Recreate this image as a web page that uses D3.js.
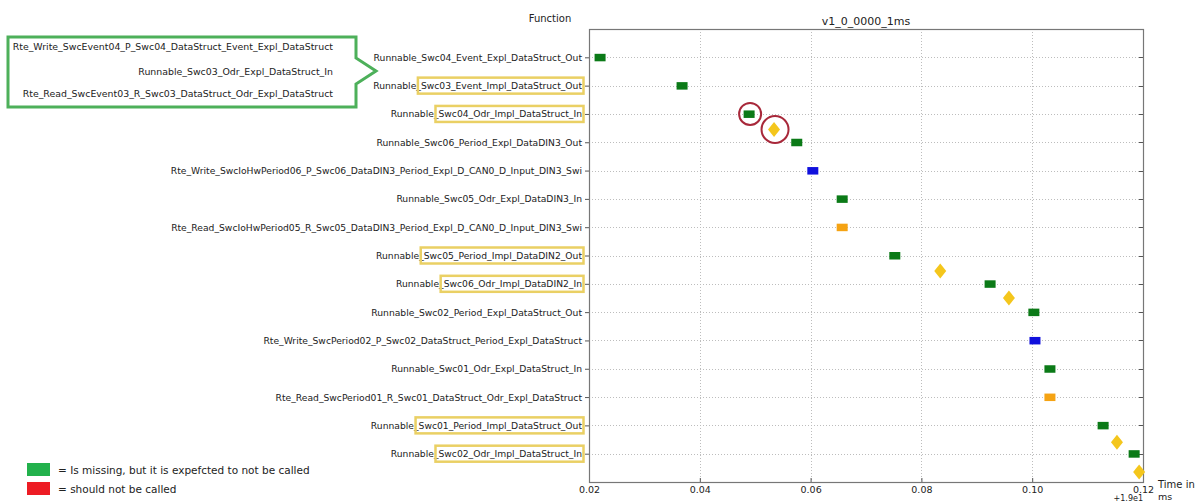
<!DOCTYPE html>
<html>
<head>
<meta charset="utf-8">
<script src="https://cdn.jsdelivr.net/npm/d3@7/dist/d3.min.js"></script>
<style>
  html, body { margin: 0; padding: 0; background: #fff; }
  svg { display: block; }
  text { font-family: "DejaVu Sans", sans-serif; fill: #222; }
</style>
</head>
<body>
<svg id="chart" width="1201" height="501"></svg>
<script>
// Function names, top row first
const functions = [
  "Runnable_Swc04_Event_Expl_DataStruct_Out",
  "Runnable_Swc03_Event_Impl_DataStruct_Out",
  "Runnable_Swc04_Odr_Impl_DataStruct_In",
  "Runnable_Swc06_Period_Expl_DataDIN3_Out",
  "Rte_Write_SwcIoHwPeriod06_P_Swc06_DataDIN3_Period_Expl_D_CAN0_D_Input_DIN3_Swi",
  "Runnable_Swc05_Odr_Expl_DataDIN3_In",
  "Rte_Read_SwcIoHwPeriod05_R_Swc05_DataDIN3_Period_Expl_D_CAN0_D_Input_DIN3_Swi",
  "Runnable_Swc05_Period_Impl_DataDIN2_Out",
  "Runnable_Swc06_Odr_Impl_DataDIN2_In",
  "Runnable_Swc02_Period_Expl_DataStruct_Out",
  "Rte_Write_SwcPeriod02_P_Swc02_DataStruct_Period_Expl_DataStruct",
  "Runnable_Swc01_Odr_Expl_DataStruct_In",
  "Rte_Read_SwcPeriod01_R_Swc01_DataStruct_Odr_Expl_DataStruct",
  "Runnable_Swc01_Period_Impl_DataStruct_Out",
  "Runnable_Swc02_Odr_Impl_DataStruct_In"
];
// Call time of each function (ms, offset +1.9e1)
const callTimes = [0.0220, 0.0368, 0.0489, 0.0575, 0.0604, 0.0657, 0.0657, 0.0752,
                   0.0924, 0.1003, 0.1005, 0.1032, 0.1032, 0.1128, 0.1184];
// Kind of call: runnable, rte write, rte read
const callKinds = ["runnable", "runnable", "runnable", "runnable", "write", "runnable", "read",
                   "runnable", "runnable", "runnable", "write", "runnable", "read", "runnable", "runnable"];
// Event markers (time, row position)
const eventTimes = [0.0534, 0.0834, 0.0958, 0.1153, 0.1193];
const eventRows = [3.55, 8.55, 9.5, 14.6, 15.65];
// Rows whose implicit-access names are marked
const markedRows = [2, 3, 8, 9, 14, 15];
// Marked calls: row of a call, index of an event
const circledCallRows = [3];
const circledEvents = [0];
// Tick labels on the time axis
const timeTicks = [0.02, 0.04, 0.06, 0.08, 0.10, 0.12];
// Functions listed in the note box
const noteLines = [
  "Rte_Write_SwcEvent04_P_Swc04_DataStruct_Event_Expl_DataStruct",
  "Runnable_Swc03_Odr_Expl_DataStruct_In",
  "Rte_Read_SwcEvent03_R_Swc03_DataStruct_Odr_Expl_DataStruct"
];
const legendLabels = ["= Is missing, but it is expefcted to not be called", "= should not be called"];

const kindColor = { runnable: "#0b7a17", write: "#1010dd", read: "#f5a313" };
const legendColors = ["#22b14c", "#ed1c24"];

const svg = d3.select("#chart");
const plot = { left: 589, right: 1143, top: 29, bottom: 482 };
const labelSize = 9.2;

const x = d3.scaleLinear().domain([0.02, 0.12]).range([plot.left, plot.right]);
const y = d3.scaleLinear().domain([0, 16]).range([plot.top, plot.bottom]);
const rows = d3.range(1, functions.length + 1);

// grid
const grid = svg.append("g").attr("stroke", "#bdbdbd").attr("stroke-width", 1)
  .attr("stroke-dasharray", "1,2");
grid.selectAll("line.h").data(rows).join("line").attr("class", "h")
  .attr("x1", plot.left).attr("x2", plot.right)
  .attr("y1", d => Math.round(y(d)) + 0.5).attr("y2", d => Math.round(y(d)) + 0.5);
grid.selectAll("line.v").data(timeTicks.slice(1, -1)).join("line").attr("class", "v")
  .attr("y1", plot.top).attr("y2", plot.bottom)
  .attr("x1", d => Math.round(x(d)) + 0.5).attr("x2", d => Math.round(x(d)) + 0.5);

// left axis with function names
const yAxis = svg.append("g").attr("transform", `translate(${plot.left},0)`)
  .call(d3.axisLeft(y).tickValues(rows).tickFormat(i => functions[i - 1]).tickSize(4).tickPadding(3));
yAxis.select(".domain").remove();
yAxis.selectAll("line").attr("stroke", "#555");
yAxis.selectAll("text").attr("font-family", "DejaVu Sans").attr("font-size", labelSize).attr("fill", "#222");

// right side ticks
svg.append("g").selectAll("line").data(rows).join("line")
  .attr("x1", plot.right - 4).attr("x2", plot.right)
  .attr("y1", d => Math.round(y(d)) + 0.5).attr("y2", d => Math.round(y(d)) + 0.5)
  .attr("stroke", "#555");

// bottom axis
const xAxis = svg.append("g").attr("transform", `translate(0,${plot.bottom})`)
  .call(d3.axisBottom(x).tickValues(timeTicks).tickFormat(d3.format(".2f")).tickSize(-4).tickPadding(4));
xAxis.select(".domain").remove();
xAxis.selectAll("line").attr("stroke", "#555");
xAxis.selectAll("text").attr("font-family", "DejaVu Sans").attr("font-size", 9.5).attr("fill", "#222");

// frame
svg.append("rect").attr("x", plot.left + 0.5).attr("y", plot.top + 0.5)
  .attr("width", plot.right - plot.left).attr("height", plot.bottom - plot.top)
  .attr("fill", "none").attr("stroke", "#777").attr("stroke-width", 1.2);

// boxes around the implicit-access part of marked labels
const measure = svg.append("text").attr("font-family", "DejaVu Sans").attr("font-size", labelSize)
  .attr("visibility", "hidden");
function textWidth(s) { measure.text(s); return measure.node().getComputedTextLength(); }
function suffix(row) { const name = functions[row - 1]; return name.slice(name.indexOf("_") + 1); }
const labelRight = plot.left - 7;
const boxWidths = markedRows.map(r => textWidth(suffix(r)));
measure.remove();
svg.append("g").selectAll("rect").data(markedRows).join("rect")
  .attr("x", (d, i) => labelRight - boxWidths[i] - 3)
  .attr("y", d => y(d) - 8)
  .attr("width", (d, i) => boxWidths[i] + 4.5)
  .attr("height", 16)
  .attr("fill", "none").attr("stroke", "#ead064").attr("stroke-width", 2.5);

// call markers
const callData = callTimes.map((t, i) => ({ t, row: i + 1, kind: callKinds[i] }));
svg.append("g").selectAll("rect").data(callData).join("rect")
  .attr("x", d => x(d.t) - 5.5).attr("y", d => y(d.row) - 3.5)
  .attr("width", 11).attr("height", 7.5)
  .attr("fill", d => kindColor[d.kind]);

// event markers (thin diamonds)
const eventData = eventTimes.map((t, i) => ({ t, row: eventRows[i] }));
svg.append("g").selectAll("path").data(eventData).join("path")
  .attr("transform", d => `translate(${x(d.t)},${y(d.row)})`)
  .attr("d", "M0,-7.5L6,0L0,7.5L-6,0Z")
  .attr("fill", "#f4c61c");

// circles around flagged marks
const circled = circledCallRows.map(r => ({ t: callTimes[r - 1], row: r, r: 11 }))
  .concat(circledEvents.map(i => ({ t: eventTimes[i], row: eventRows[i], r: 13.5 })));
svg.append("g").selectAll("circle").data(circled).join("circle")
  .attr("cx", d => x(d.t) + 1).attr("cy", d => y(d.row)).attr("r", d => d.r)
  .attr("fill", "none").attr("stroke", "#a8283a").attr("stroke-width", 2);

// titles
svg.append("text").attr("x", 550).attr("y", 22).attr("text-anchor", "middle")
  .attr("font-size", 10).text("Function");
svg.append("text").attr("x", (plot.left + plot.right) / 2).attr("y", 25).attr("text-anchor", "middle")
  .attr("font-size", 11).text("v1_0_0000_1ms");
svg.append("text").attr("x", 1158).attr("y", 488).attr("font-size", 10).text("Time in");
svg.append("text").attr("x", 1158).attr("y", 499.5).attr("font-size", 9.5).text("ms");
svg.append("text").attr("x", plot.right).attr("y", 500.5).attr("text-anchor", "end")
  .attr("font-size", 8).text("+1.9e1");

// note box with pointer
const nb = { x0: 8, y0: 37, x1: 356, y1: 107, tipX: 376, tipY: 71, n0: 58, n1: 84 };
svg.append("path")
  .attr("d", `M${nb.x0},${nb.y0}H${nb.x1}V${nb.n0}L${nb.tipX},${nb.tipY}L${nb.x1},${nb.n1}V${nb.y1}H${nb.x0}Z`)
  .attr("fill", "#fff").attr("stroke", "#4db05a").attr("stroke-width", 3).attr("stroke-linejoin", "miter");
svg.append("g").selectAll("text").data(noteLines).join("text")
  .attr("x", 333).attr("y", (d, i) => [50, 75, 97][i]).attr("text-anchor", "end")
  .attr("font-size", 9.4).text(d => d);

// legend
const lg = svg.append("g");
lg.selectAll("rect").data(legendColors).join("rect")
  .attr("x", 27).attr("y", (d, i) => 463 + i * 19).attr("width", 23).attr("height", 13)
  .attr("fill", d => d);
lg.selectAll("text").data(legendLabels).join("text")
  .attr("x", 58).attr("y", (d, i) => 474 + i * 18.5)
  .attr("font-family", "Liberation Sans, Arial, sans-serif").attr("font-size", 10.5)
  .text(d => d);
</script>
</body>
</html>
